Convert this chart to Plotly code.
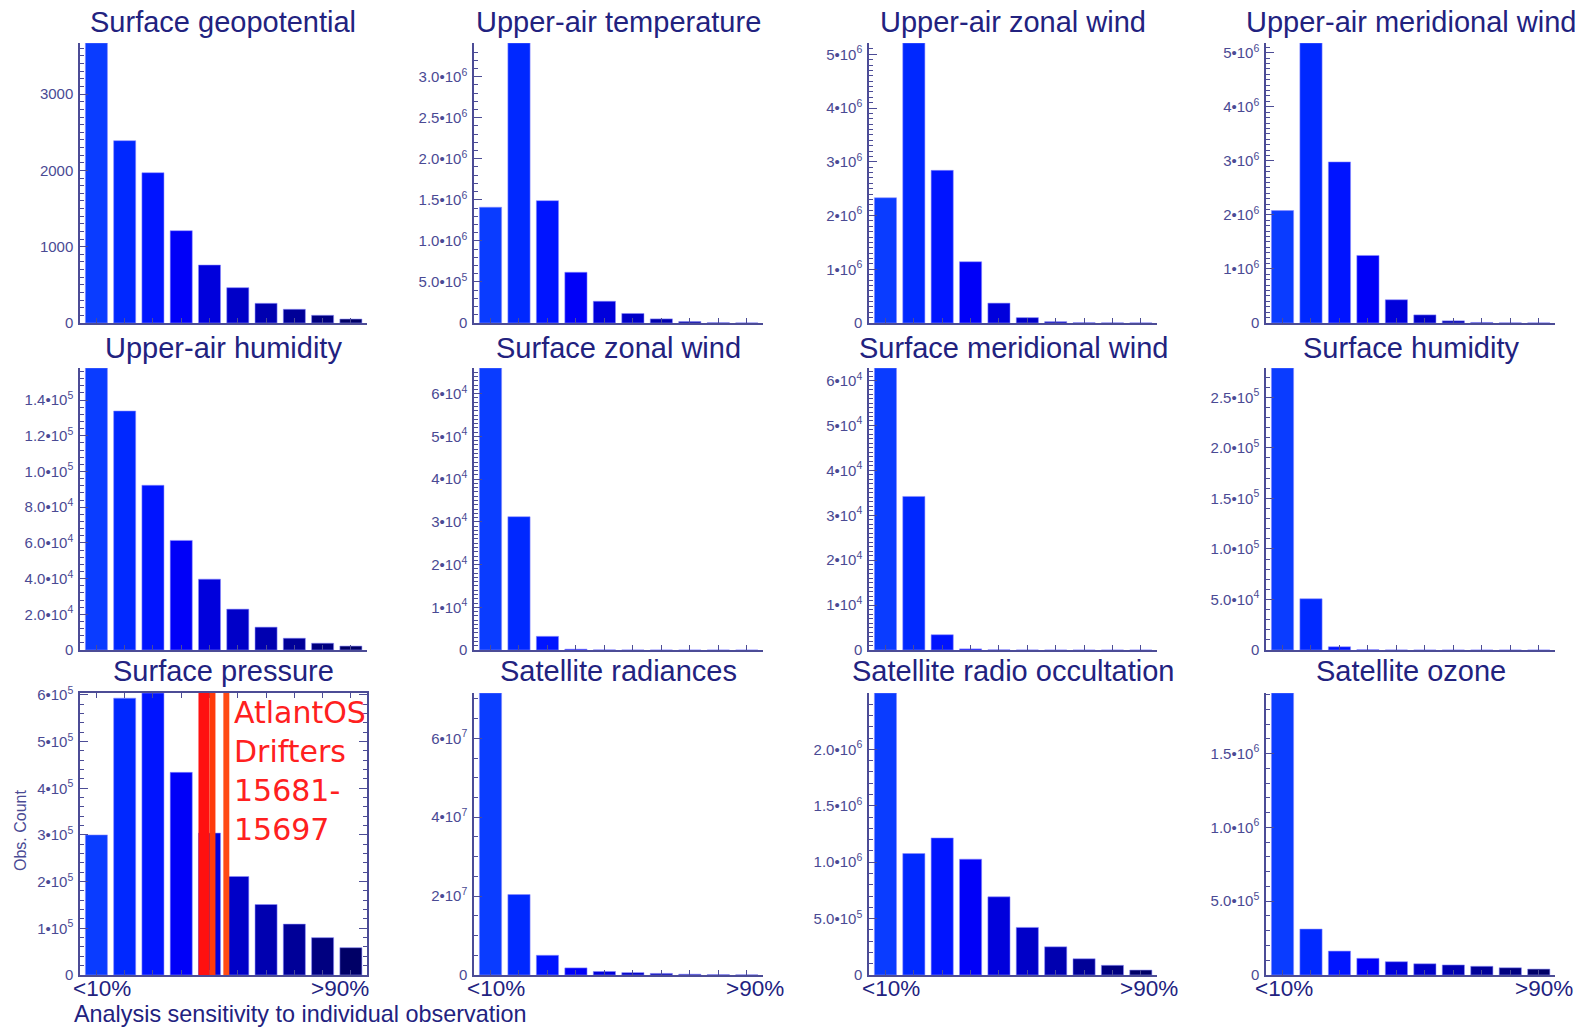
import plotly.graph_objects as go

W, H = 1575, 1029

# ---------------- data ----------------
bins = list(range(10))  # sensitivity deciles, <10% ... >90%
bar_colors = ["#0a3cff", "#0028ff", "#0014ff", "#0000f8", "#0000dc",
              "#0000c8", "#0000b0", "#000098", "#000080", "#000066"]

titles = ["Surface geopotential", "Upper-air temperature", "Upper-air zonal wind", "Upper-air meridional wind",
          "Upper-air humidity", "Surface zonal wind", "Surface meridional wind", "Surface humidity",
          "Surface pressure", "Satellite radiances", "Satellite radio occultation", "Satellite ozone"]

surface_geopotential = [3670, 2390, 1970, 1210, 760, 463, 258, 180, 101, 52]
upper_air_temperature = [1.41e6, 3.41e6, 1.49e6, 6.18e5, 2.65e5, 1.16e5, 5.0e4, 1.8e4, 4e3, 1.5e3]
upper_air_zonal_wind = [2.33e6, 5.21e6, 2.84e6, 1.14e6, 3.7e5, 1.0e5, 2.5e4, 6e3, 3e3, 2e3]
upper_air_meridional_wind = [2.08e6, 5.18e6, 2.98e6, 1.25e6, 4.3e5, 1.5e5, 4.0e4, 1.0e4, 3e3, 2e3]
upper_air_humidity = [1.58e5, 1.339e5, 9.23e4, 6.14e4, 3.97e4, 2.29e4, 1.28e4, 6.6e3, 3.8e3, 2.2e3]
surface_zonal_wind = [6.6e4, 3.12e4, 3.2e3, 200, 30, 10, 5, 3, 2, 1]
surface_meridional_wind = [6.28e4, 3.42e4, 3.4e3, 250, 40, 10, 5, 3, 2, 1]
surface_humidity = [2.79e5, 5.07e4, 3.2e3, 300, 50, 20, 10, 5, 3, 2]
surface_pressure = [3.0e5, 5.93e5, 6.04e5, 4.34e5, 3.04e5, 2.11e5, 1.51e5, 1.09e5, 8.0e4, 5.85e4]
satellite_radiances = [7.15e7, 2.04e7, 5.0e6, 1.8e6, 9e5, 6e5, 4e5, 2e5, 1e5, 5e4]
satellite_radio_occultation = [2.5e6, 1.077e6, 1.215e6, 1.027e6, 6.93e5, 4.22e5, 2.5e5, 1.44e5, 8.6e4, 4.4e4]
satellite_ozone = [1.91e6, 3.11e5, 1.62e5, 1.13e5, 9.0e4, 7.6e4, 6.8e4, 5.9e4, 4.9e4, 4.0e4]

series = [surface_geopotential, upper_air_temperature, upper_air_zonal_wind, upper_air_meridional_wind,
          upper_air_humidity, surface_zonal_wind, surface_meridional_wind, surface_humidity,
          surface_pressure, satellite_radiances, satellite_radio_occultation, satellite_ozone]

def sci(m, e):
    return f"{m}•10<sup>{e}</sup>"

tick_vals = [
    [0, 1000, 2000, 3000],
    [0, 5e5, 1e6, 1.5e6, 2e6, 2.5e6, 3e6],
    [0, 1e6, 2e6, 3e6, 4e6, 5e6],
    [0, 1e6, 2e6, 3e6, 4e6, 5e6],
    [0, 2e4, 4e4, 6e4, 8e4, 1e5, 1.2e5, 1.4e5],
    [0, 1e4, 2e4, 3e4, 4e4, 5e4, 6e4],
    [0, 1e4, 2e4, 3e4, 4e4, 5e4, 6e4],
    [0, 5e4, 1e5, 1.5e5, 2e5, 2.5e5],
    [0, 1e5, 2e5, 3e5, 4e5, 5e5, 6e5],
    [0, 2e7, 4e7, 6e7],
    [0, 5e5, 1e6, 1.5e6, 2e6],
    [0, 5e5, 1e6, 1.5e6],
]
tick_text = [
    ["0", "1000", "2000", "3000"],
    ["0", sci("5.0", 5), sci("1.0", 6), sci("1.5", 6), sci("2.0", 6), sci("2.5", 6), sci("3.0", 6)],
    ["0", sci("1", 6), sci("2", 6), sci("3", 6), sci("4", 6), sci("5", 6)],
    ["0", sci("1", 6), sci("2", 6), sci("3", 6), sci("4", 6), sci("5", 6)],
    ["0", sci("2.0", 4), sci("4.0", 4), sci("6.0", 4), sci("8.0", 4), sci("1.0", 5), sci("1.2", 5), sci("1.4", 5)],
    ["0", sci("1", 4), sci("2", 4), sci("3", 4), sci("4", 4), sci("5", 4), sci("6", 4)],
    ["0", sci("1", 4), sci("2", 4), sci("3", 4), sci("4", 4), sci("5", 4), sci("6", 4)],
    ["0", sci("5.0", 4), sci("1.0", 5), sci("1.5", 5), sci("2.0", 5), sci("2.5", 5)],
    ["0", sci("1", 5), sci("2", 5), sci("3", 5), sci("4", 5), sci("5", 5), sci("6", 5)],
    ["0", sci("2", 7), sci("4", 7), sci("6", 7)],
    ["0", sci("5.0", 5), sci("1.0", 6), sci("1.5", 6), sci("2.0", 6)],
    ["0", sci("5.0", 5), sci("1.0", 6), sci("1.5", 6)],
]
minor_step = [100, 1e5, 1e5, 1e5, 4e3, 1e3, 1e3, 1e4, 2e4, 5e6, 1e5, 1e5]

# AtlantOS drifter sensitivities marked on the surface-pressure panel (bin units)
drifter_bands = [(3.61, 4.0, "#ff1010"), (4.0, 4.21, "#ff3a0a"), (4.49, 4.70, "#ff4a14")]
drifter_label = "AtlantOS<br>Drifters<br>15681-<br>15697"

x_low_label, x_high_label = "<10%", ">90%"
xlabel_pos = [(0.2, 8.62), (0.2, 9.3), (0.18, 9.3), (0.05, 9.2)]

# ---------------- layout geometry (pixels) ----------------
col_px = [(80, 367), (474, 763), (869, 1157), (1266, 1555)]
row_px = [(43, 323), (368, 650), (693, 975)]
title_cy = [22, 348, 671]

AXC = "#4c4c96"
TICKC = "#4a4a94"
TITLEC = "#22227f"
FONT = "Liberation Sans, Arial, sans-serif"

def px_x(p):
    return p / W

def px_y(p):
    return 1 - p / H

fig = go.Figure()
layout = dict(width=W, height=H, margin=dict(l=0, r=0, t=0, b=0, pad=0, autoexpand=False),
              paper_bgcolor="white", plot_bgcolor="white", showlegend=False,
              annotations=[], shapes=[])

for i, vals in enumerate(series):
    r, c = divmod(i, 4)
    n = i + 1
    xa = "x" if n == 1 else f"x{n}"
    ya = "y" if n == 1 else f"y{n}"
    fig.add_trace(go.Bar(x=bins, y=vals, xaxis=xa, yaxis=ya, width=0.78,
                         marker=dict(color=bar_colors, line=dict(color="rgba(140,140,255,0.55)", width=1))))
    x0, x1 = col_px[c]
    y0, y1 = row_px[r]
    framed = (i == 8)
    layout["xaxis" if n == 1 else f"xaxis{n}"] = dict(
        domain=[px_x(x0), px_x(x1)], anchor=ya, range=[-0.58, 9.57], automargin=False,
        tickvals=bins, ticks="inside", ticklen=5, tickcolor=AXC, tickwidth=1,
        showticklabels=False, showline=True, linecolor=AXC, linewidth=1.5,
        showgrid=False, zeroline=False, mirror="ticks" if framed else False, fixedrange=True)
    layout["yaxis" if n == 1 else f"yaxis{n}"] = dict(
        domain=[px_y(y1), px_y(y0)], anchor=xa, range=[0, max(vals)], automargin=False,
        tickvals=tick_vals[i], ticktext=tick_text[i], ticks="inside", ticklen=8,
        tickcolor=AXC, tickwidth=1, ticklabelstandoff=2,
        tickfont=dict(family=FONT, size=15, color=TICKC),
        minor=dict(dtick=minor_step[i], tick0=0, ticks="inside", ticklen=4, tickcolor=AXC, tickwidth=1),
        showline=True, linecolor=AXC, linewidth=1.5, showgrid=False, zeroline=False,
        mirror="ticks" if framed else False, fixedrange=True)
    layout["annotations"].append(dict(
        text=titles[i], x=px_x((x0 + x1) / 2), y=px_y(title_cy[r]), xref="paper", yref="paper",
        xanchor="center", yanchor="middle", showarrow=False,
        font=dict(family=FONT, size=29, color=TITLEC)))
    if r == 2:
        lo, hi = xlabel_pos[c]
        for xv, txt in ((lo, x_low_label), (hi, x_high_label)):
            layout["annotations"].append(dict(
                text=txt, x=xv, y=px_y(988), xref=xa, yref="paper", xanchor="center", yanchor="middle",
                showarrow=False, font=dict(family=FONT, size=22.5, color=TITLEC)))

# drifter bands on surface pressure panel
for (a, b, col) in drifter_bands:
    layout["shapes"].append(dict(type="rect", xref="x9", yref="y9 domain", x0=a, x1=b, y0=0, y1=1,
                                 fillcolor=col, line=dict(width=0), layer="above"))
layout["annotations"].append(dict(
    text=drifter_label, x=px_x(232), y=px_y(771), xref="paper", yref="paper",
    xanchor="left", yanchor="middle", align="left", showarrow=False,
    font=dict(family="DejaVu Sans, sans-serif", size=30, color="#ff2020")))

layout["annotations"].append(dict(
    text="Obs. Count", x=px_x(20), y=px_y(831), xref="paper", yref="paper", textangle=-90,
    xanchor="center", yanchor="middle", showarrow=False, font=dict(family=FONT, size=16, color=TICKC)))
layout["annotations"].append(dict(
    text="Analysis sensitivity to individual observation", x=px_x(72), y=px_y(1014),
    xref="paper", yref="paper", xanchor="left", yanchor="middle", showarrow=False,
    font=dict(family=FONT, size=23.4, color=TITLEC)))

fig.update_layout(**layout)
fig.write_html("out.html", config={"displayModeBar": False},
               post_script="var d=document.getElementById('{plot_id}');"
                           "d.style.position='fixed';d.style.top='0px';d.style.left='0px';"
                           "document.body.style.margin='0';document.body.style.padding='0';"
                           "document.documentElement.style.overflow='hidden';")
